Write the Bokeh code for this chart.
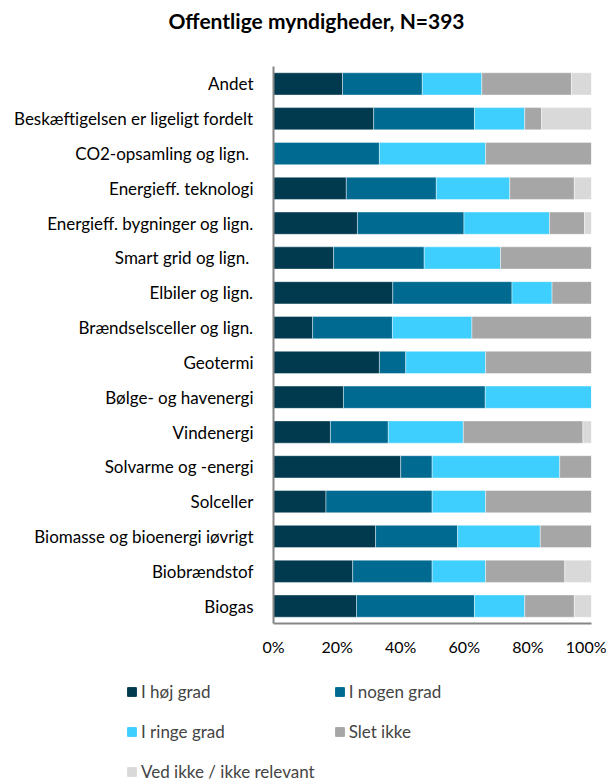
from bokeh.plotting import figure
from bokeh.layouts import column, row
from bokeh.models import FactorRange, Range1d, FixedTicker, Legend, LegendItem, CustomJSTickFormatter, Title
from bokeh.embed import file_html
from bokeh.resources import INLINE

categories = [
    "Andet",
    "Beskæftigelsen er ligeligt fordelt",
    "CO2-opsamling og lign. ",
    "Energieff. teknologi",
    "Energieff. bygninger og lign.",
    "Smart grid og lign. ",
    "Elbiler og lign.",
    "Brændselsceller og lign.",
    "Geotermi",
    "Bølge- og havenergi",
    "Vindenergi",
    "Solvarme og -energi",
    "Solceller",
    "Biomasse og bioenergi iøvrigt",
    "Biobrændstof",
    "Biogas",
]
series = ["I høj grad", "I nogen grad", "I ringe grad", "Slet ikke", "Ved ikke / ikke relevant"]
hoej = [21.7, 31.5, 0.0, 22.9, 26.4, 18.9, 37.5, 12.3, 33.3, 22.0, 17.9, 40.0, 16.5, 32.1, 24.9, 26.1]
nogen = [25.1, 31.7, 33.3, 28.3, 33.5, 28.5, 37.5, 25.1, 8.3, 44.6, 18.2, 9.9, 33.4, 25.8, 25.0, 37.1]
ringe = [18.7, 15.8, 33.4, 23.1, 26.9, 24.0, 12.6, 25.0, 25.1, 33.4, 23.6, 40.1, 16.8, 26.0, 16.8, 15.8]
slet = [28.2, 5.3, 33.3, 20.3, 11.0, 28.6, 12.4, 37.6, 33.3, 0.0, 37.6, 10.0, 33.3, 16.1, 24.9, 15.6]
vedikke = [6.3, 15.7, 0.0, 5.4, 2.2, 0.0, 0.0, 0.0, 0.0, 0.0, 2.7, 0.0, 0.0, 0.0, 8.4, 5.4]
x_ticks = [0, 20, 40, 60, 80, 100]
colors = ["#013A4F", "#006A91", "#3FCFFF", "#A6A6A6", "#D9D9D9"]

FONT = "Lato"

keys = ["hoej", "nogen", "ringe", "slet", "vedikke"]
data = dict(cat=categories, hoej=hoej, nogen=nogen, ringe=ringe, slet=slet, vedikke=vedikke)

W = 606
p = figure(
    width=W, height=672,
    y_range=FactorRange(factors=list(reversed(categories)), range_padding=0),
    x_range=Range1d(0, 100),
    output_backend="svg", toolbar_location=None,
    min_border_left=273, min_border_right=15, min_border_top=66, min_border_bottom=49,
)
renderers = p.hbar_stack(keys, y="cat", height=0.64, color=colors, source=data,
                         line_color="white", line_width=0.6, line_alpha=0.7)

p.outline_line_color = None
p.xgrid.grid_line_color = None
p.ygrid.grid_line_color = None

p.xaxis.ticker = FixedTicker(ticks=x_ticks)
p.xaxis.formatter = CustomJSTickFormatter(code="return tick + '%';")
for ax in (p.xaxis[0], p.yaxis[0]):
    ax.axis_line_color = "#868686"
    ax.axis_line_width = 2
    ax.major_tick_line_color = None
    ax.minor_tick_line_color = None
    ax.major_label_text_font = FONT
    ax.major_label_text_color = "#000000"
p.xaxis.major_label_standoff = 7
p.xaxis.major_label_text_font_size = "16px"
p.yaxis.major_label_text_font_size = "17px"
p.yaxis.major_label_standoff = 14

# real title (always outermost) with a spacer between it and the frame
p.title.text = "Offentlige  myndigheder, N=393"
p.title.align = "left"
p.title.offset = -105
p.title.standoff = 0
p.title.text_font = FONT
p.title.text_font_size = "21px"
p.title.text_font_style = "bold"
p.title.text_color = "#000000"
spacer = Title(text=" ", text_font_size="10px", standoff=21)
p.add_layout(spacer, "above")

# legend panel
LH = 109
pl = figure(width=W, height=LH,
            y_range=FactorRange(factors=list(reversed(categories))), x_range=Range1d(1000, 2000),
            x_axis_location=None, y_axis_location=None,
            output_backend="svg", toolbar_location=None,
            min_border_left=0, min_border_right=0, min_border_top=0, min_border_bottom=0)
pl.outline_line_color = None
pl.xgrid.grid_line_color = None
pl.ygrid.grid_line_color = None
leg_renderers = pl.hbar_stack(keys, y="cat", height=0.64, color=colors, source=data)
for r in leg_renderers:
    r.visible = False
order = [0, 2, 4, 1, 3]  # row-major reading in a 2-column legend
items = [LegendItem(label=series[i], renderers=[leg_renderers[i]]) for i in order]
legend = Legend(items=items, ncols=2, location=(126, -1),
                glyph_width=11, glyph_height=11, label_standoff=4, label_width=163,
                label_height=20, spacing=19, padding=0, margin=0,
                label_text_font=FONT, label_text_font_size="17px",
                inactive_fill_alpha=0,
                border_line_color=None, background_fill_alpha=0)
pl.add_layout(legend, "center")

layout = column(p, row(pl), spacing=0)
open("out.html", "w").write(file_html(layout, INLINE))
